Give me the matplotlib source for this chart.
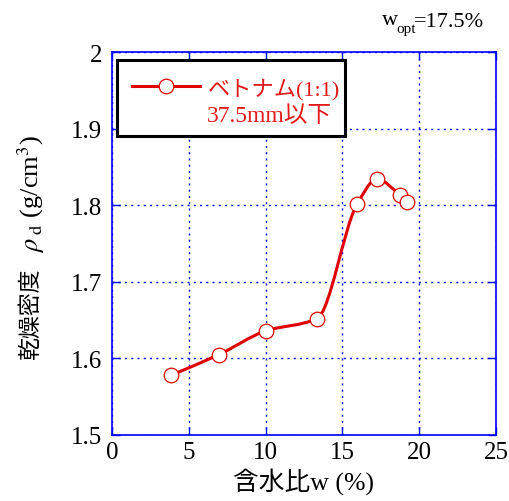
import matplotlib
matplotlib.use('Agg')
import matplotlib.pyplot as plt
from matplotlib.path import Path
from matplotlib.patches import PathPatch, Rectangle
import numpy as np

plt.rcParams['font.family'] = ['Liberation Serif', 'Noto Sans CJK JP']
plt.rcParams['mathtext.fontset'] = 'stix'

# water content w (%) and dry density (g/cm3)
water_content = [3.85, 6.97, 10.03, 13.35, 15.95, 17.25, 18.75, 19.2]
dry_density = [1.578, 1.605, 1.636, 1.652, 1.801, 1.834, 1.813, 1.804]

legend_lines = ['ベトナム(1:1)', '37.5mm以下']
x_ticks = [0, 5, 10, 15, 20, 25]
y_ticks = [1.5, 1.6, 1.7, 1.8, 1.9, 2.0]
y_ticklabels = ['1.5', '1.6', '1.7', '1.8', '1.9', '2']

RED = '#e00000'
TEXT_RED = '#e31a1a'
BLUE = '#0000ff'


def smooth_path(xs, ys):
    """Monotone cubic (Fritsch-Carlson) curve through the points as Bezier segments"""
    x = np.asarray(xs, float)
    y = np.asarray(ys, float)
    h = np.diff(x)
    d = np.diff(y) / h
    m = np.zeros_like(x)
    m[0], m[-1] = d[0], d[-1]
    for i in range(1, len(x) - 1):
        if d[i - 1] * d[i] > 0:
            w1 = 2 * h[i] + h[i - 1]
            w2 = h[i] + 2 * h[i - 1]
            m[i] = (w1 + w2) / (w1 / d[i - 1] + w2 / d[i])
    verts = [(x[0], y[0])]
    codes = [Path.MOVETO]
    for i in range(len(x) - 1):
        verts += [(x[i] + h[i] / 3, y[i] + m[i] * h[i] / 3),
                  (x[i + 1] - h[i] / 3, y[i + 1] - m[i + 1] * h[i] / 3),
                  (x[i + 1], y[i + 1])]
        codes += [Path.CURVE4] * 3
    return Path(verts, codes)


fig = plt.figure(figsize=(5.1, 5.02), dpi=100)
ax = fig.add_axes([0.2196, 0.1315, 0.7529, 0.7629])

ax.add_patch(PathPatch(smooth_path(water_content, dry_density), fill=False,
                       edgecolor=RED, linewidth=2.2, zorder=3))
ax.plot(water_content, dry_density, linestyle='none', marker='o', markersize=10.5,
        markerfacecolor='white', markeredgecolor=RED, markeredgewidth=0.9, zorder=4)

ax.set_xlim(0, 25)
ax.set_ylim(1.5, 2.0)
ax.set_xticks(x_ticks)
ax.set_yticks(y_ticks)
ax.set_yticklabels(y_ticklabels)
ax.tick_params(direction='in', length=6, width=1, color=BLUE, labelsize=18,
               top=True, right=True)
ax.tick_params(axis='y', pad=7)
ax.tick_params(axis='x', pad=4)
for sp in ax.spines.values():
    sp.set_color(BLUE)
    sp.set_linewidth(1.2)
ax.grid(True, color=BLUE, linestyle=(0, (1.5, 3)), linewidth=1)
ax.set_axisbelow(True)

ax.set_xlabel('含水比w (%)', fontsize=18.5, labelpad=3)

# y label in two pieces: Japanese text and the symbol part
fig.text(31 / 510, 1 - 269 / 502, '乾燥密度', rotation=90, rotation_mode='anchor',
         ha='right', va='center', fontsize=16.5)
fig.text(31 / 510, 1 - 253 / 502, r'$\rho_{\ \rm d}$ (g/cm$^3$)', rotation=90,
         rotation_mode='anchor', ha='left', va='center', fontsize=19)

# w_opt note
fig.text(382 / 510, 1 - 25 / 502, 'w', fontsize=16, va='baseline')
fig.text(396 / 510, 1 - 33 / 502, 'opt', fontsize=11, va='baseline')
fig.text(414 / 510, 1 - 27 / 502, '=17.5%', fontsize=16, va='baseline')

# legend box drawn by hand so the symbol sits on the first text line
ax.add_patch(Rectangle((0.013, 0.781), 0.594, 0.198, transform=ax.transAxes,
                       facecolor='white', edgecolor='black', linewidth=2.2,
                       zorder=5, clip_on=False))
ax.plot([0.052, 0.229], [0.911, 0.911], color=RED, linewidth=2.2,
        transform=ax.transAxes, zorder=6, clip_on=False)
ax.plot([0.141], [0.911], linestyle='none', marker='o', markersize=10.5,
        markerfacecolor='white', markeredgecolor=RED, markeredgewidth=0.9,
        transform=ax.transAxes, zorder=7, clip_on=False)
ax.text(0.250, 0.890, legend_lines[0], transform=ax.transAxes, color=TEXT_RED,
        fontsize=16, va='baseline', zorder=7)
ax.text(0.247, 0.820, legend_lines[1], transform=ax.transAxes, color=TEXT_RED,
        fontsize=17, va='baseline', zorder=7)

fig.savefig('out.png', dpi=100)
